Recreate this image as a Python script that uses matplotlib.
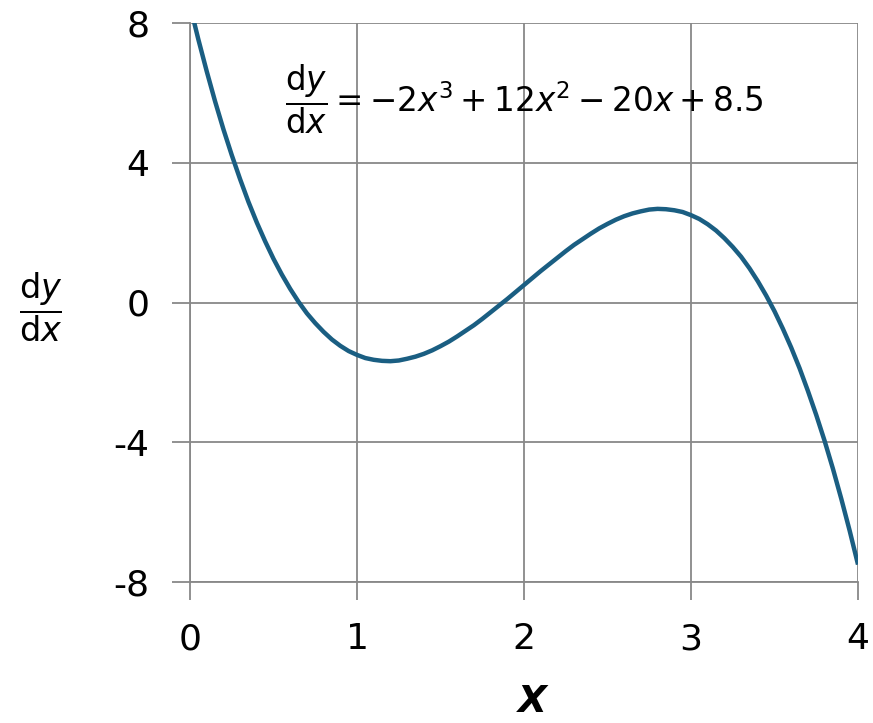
import matplotlib.pyplot as plt

plt.rcParams["axes.unicode_minus"] = False
plt.rcParams["mathtext.fontset"] = "dejavusans"

# slope values, every 0.05 in x
x = [0.0, 0.05, 0.1, 0.15, 0.2, 0.25, 0.3, 0.35, 0.4, 0.45,
     0.5, 0.55, 0.6, 0.65, 0.7, 0.75, 0.8, 0.85, 0.9, 0.95,
     1.0, 1.05, 1.1, 1.15, 1.2, 1.25, 1.3, 1.35, 1.4, 1.45,
     1.5, 1.55, 1.6, 1.65, 1.7, 1.75, 1.8, 1.85, 1.9, 1.95,
     2.0, 2.05, 2.1, 2.15, 2.2, 2.25, 2.3, 2.35, 2.4, 2.45,
     2.5, 2.55, 2.6, 2.65, 2.7, 2.75, 2.8, 2.85, 2.9, 2.95,
     3.0, 3.05, 3.1, 3.15, 3.2, 3.25, 3.3, 3.35, 3.4, 3.45,
     3.5, 3.55, 3.6, 3.65, 3.7, 3.75, 3.8, 3.85, 3.9, 3.95, 4.0]
dydx = [8.5, 7.53, 6.62, 5.76, 4.96, 4.22, 3.53, 2.88, 2.29, 1.75,
        1.25, 0.80, 0.39, 0.02, -0.31, -0.59, -0.84, -1.06, -1.24, -1.39,
        -1.5, -1.59, -1.64, -1.67, -1.68, -1.66, -1.61, -1.55, -1.47, -1.37,
        -1.25, -1.12, -0.97, -0.81, -0.65, -0.47, -0.28, -0.09, 0.10, 0.30,
        0.5, 0.70, 0.90, 1.09, 1.28, 1.47, 1.65, 1.81, 1.97, 2.12,
        2.25, 2.37, 2.47, 2.55, 2.61, 2.66, 2.68, 2.67, 2.64, 2.59,
        2.5, 2.39, 2.24, 2.06, 1.84, 1.59, 1.31, 0.98, 0.61, 0.20,
        -0.25, -0.75, -1.29, -1.88, -2.53, -3.22, -3.96, -4.76, -5.62, -6.53, -7.5]

xticks = [0, 1, 2, 3, 4]
yticks = [-8, -4, 0, 4, 8]

fig = plt.figure(figsize=(8.73, 7.23), dpi=100)
ax = fig.add_axes([190/873, 141/723, 668/873, 559/723])

ax.plot(x, dydx, color="#1a5e82", linewidth=3.2, solid_capstyle="butt")

ax.set_xlim(0, 4)
ax.set_ylim(-8, 8)
ax.set_xticks(xticks)
ax.set_yticks(yticks)
ax.tick_params(labelsize=26, length=13, width=1.3, color="#888888", pad=16)
ax.grid(True, color="#888888", linewidth=1.3)
ax.set_axisbelow(True)
for s in ax.spines.values():
    s.set_visible(False)
for side in ["left", "bottom"]:
    ax.spines[side].set_visible(True)
    ax.spines[side].set_color("#888888")
    ax.spines[side].set_linewidth(1.3)

ax.text(0.142, 0.863, r"$\dfrac{\mathrm{d}y}{\mathrm{d}x} = -2x^3+12x^2-20x+8.5$",
        transform=ax.transAxes, fontsize=23.5, va="center", ha="left")

fig.text(41/873, 1 - 307/723, r"$\dfrac{\mathrm{d}y}{\mathrm{d}x}$",
         fontsize=24, ha="center", va="center")
fig.text(532/873, 1 - 712/723, "X", fontsize=27, fontweight="bold",
         fontstyle="italic", ha="center", va="baseline")

fig.savefig("out.png", dpi=100)
